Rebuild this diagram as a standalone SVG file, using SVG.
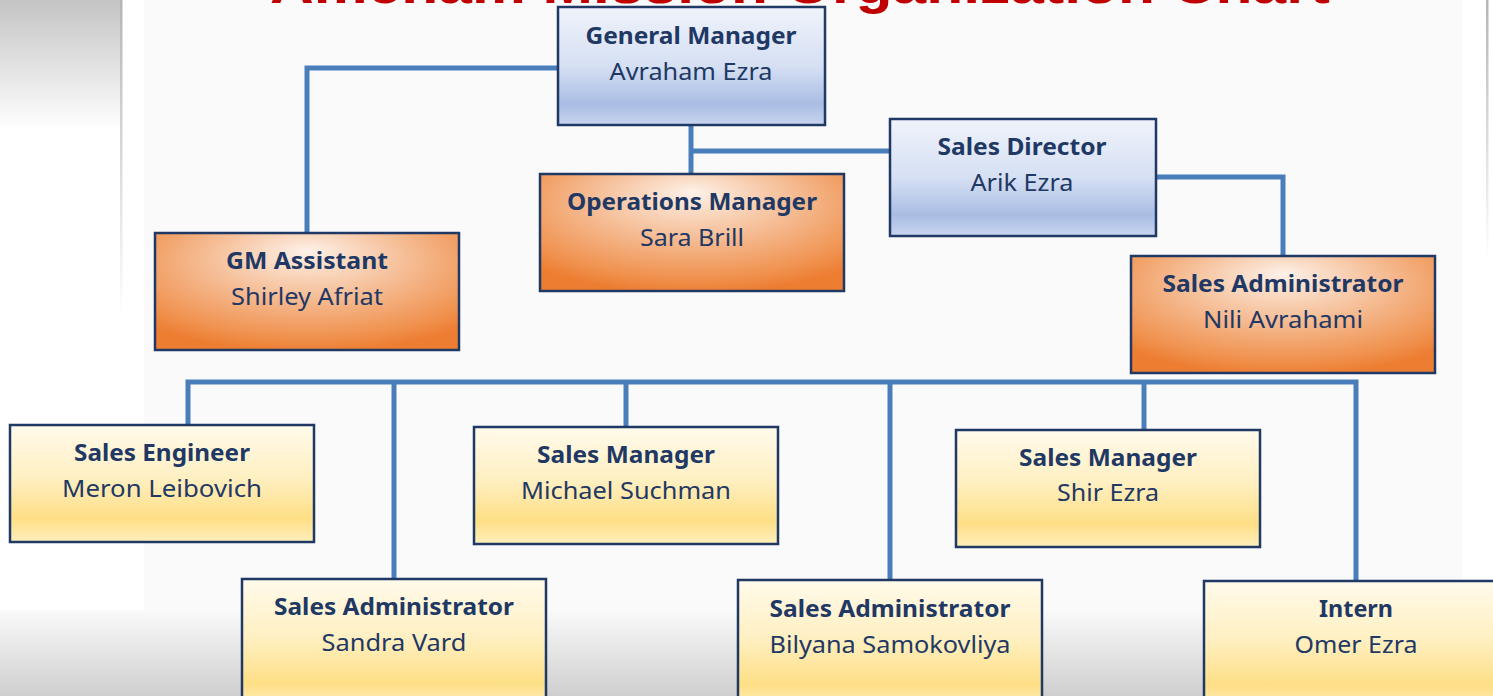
<svg xmlns="http://www.w3.org/2000/svg" width="1493" height="696" viewBox="0 0 1493 696">
  <defs>
    <linearGradient id="gLeft" x1="0" y1="0" x2="0" y2="1">
      <stop offset="0" stop-color="#c4c4c4"/>
      <stop offset="1" stop-color="#ffffff"/>
    </linearGradient>
    <linearGradient id="gBottom" x1="0" y1="0" x2="0" y2="1">
      <stop offset="0" stop-color="#fafafa"/>
      <stop offset="1" stop-color="#cfcfcf"/>
    </linearGradient>
    <linearGradient id="gLine" x1="0" y1="0" x2="0" y2="1">
      <stop offset="0" stop-color="#b5b5b5"/>
      <stop offset="1" stop-color="#b5b5b5" stop-opacity="0"/>
    </linearGradient>
    <linearGradient id="gBlue" x1="0" y1="0" x2="0" y2="1">
      <stop offset="0" stop-color="#eff3fb"/>
      <stop offset="0.5" stop-color="#d6e0f3"/>
      <stop offset="0.82" stop-color="#a9bde3"/>
      <stop offset="1" stop-color="#c8d5ef"/>
    </linearGradient>
    <radialGradient id="gOrange" cx="0.5" cy="0.3" r="0.72" fx="0.5" fy="0.15">
      <stop offset="0" stop-color="#fdf1e8"/>
      <stop offset="0.55" stop-color="#f4b385"/>
      <stop offset="0.85" stop-color="#f0924f"/>
      <stop offset="1" stop-color="#ed7d31"/>
    </radialGradient>
    <linearGradient id="gYellow" x1="0" y1="0" x2="0" y2="1">
      <stop offset="0" stop-color="#fffaeb"/>
      <stop offset="0.45" stop-color="#fff0c2"/>
      <stop offset="0.8" stop-color="#fedf86"/>
      <stop offset="1" stop-color="#ffefbd"/>
    </linearGradient>
    <style>
      .box { stroke: #1f3864; stroke-width: 2.5; }
      .blue { fill: url(#gBlue); }
      .orange { fill: url(#gOrange); }
      .yellow { fill: url(#gYellow); }
      .t { font-family: "Noto Sans", "Open Sans", sans-serif; font-size: 23px; fill: #1f3864; text-anchor: middle; }
      .b { font-weight: bold; }
      .conn { fill: none; stroke: #4a7ebb; stroke-width: 5; stroke-linejoin: miter; }
    </style>
  </defs>

  <!-- background -->
  <rect x="0" y="0" width="1493" height="696" fill="#ffffff"/>
  <rect x="0" y="0" width="120" height="130" fill="url(#gLeft)"/>
  <rect x="120" y="0" width="2.5" height="320" fill="url(#gLine)"/>
  <rect x="144" y="0" width="1318" height="696" fill="#fafafa"/>
  <rect x="1486" y="0" width="2.5" height="260" fill="url(#gLine)"/>
  <rect x="0" y="610" width="1493" height="86" fill="url(#gBottom)"/>

  <!-- title (cropped at top edge) -->
  <text x="800" y="3" font-family="Liberation Sans, Arial, sans-serif" font-weight="bold" font-size="54" fill="#c00000" text-anchor="middle" textLength="1060" lengthAdjust="spacingAndGlyphs">Amcham Mission Organization Chart</text>

  <!-- connectors -->
  <g id="connectors">
    <polyline class="conn" points="558,68 307,68 307,233"/>
    <line class="conn" x1="691" y1="125" x2="691" y2="174"/>
    <line class="conn" x1="691" y1="151" x2="890" y2="151"/>
    <polyline class="conn" points="1156,177 1283,177 1283,256"/>
    <polyline class="conn" points="188,425 188,382 1356,382 1356,581"/>
    <line class="conn" x1="394" y1="382" x2="394" y2="579"/>
    <line class="conn" x1="626" y1="382" x2="626" y2="427"/>
    <line class="conn" x1="890" y1="382" x2="890" y2="580"/>
    <line class="conn" x1="1144" y1="382" x2="1144" y2="430"/>
  </g>

  <!-- nodes -->
  <g id="general-manager">
    <rect class="box blue" x="558" y="7" width="267" height="118"/>
    <text class="t b" x="691" y="44" textLength="211" lengthAdjust="spacingAndGlyphs">General Manager</text>
    <text class="t" x="691" y="80" textLength="163" lengthAdjust="spacingAndGlyphs">Avraham Ezra</text>
  </g>
  <g id="sales-director">
    <rect class="box blue" x="890" y="119" width="266" height="117"/>
    <text class="t b" x="1022" y="155" textLength="169" lengthAdjust="spacingAndGlyphs">Sales Director</text>
    <text class="t" x="1022" y="191" textLength="103" lengthAdjust="spacingAndGlyphs">Arik Ezra</text>
  </g>
  <g id="operations-manager">
    <rect class="box orange" x="540" y="174" width="304" height="117"/>
    <text class="t b" x="692" y="210" textLength="250" lengthAdjust="spacingAndGlyphs">Operations Manager</text>
    <text class="t" x="692" y="246" textLength="104" lengthAdjust="spacingAndGlyphs">Sara Brill</text>
  </g>
  <g id="gm-assistant">
    <rect class="box orange" x="155" y="233" width="304" height="117"/>
    <text class="t b" x="307" y="269" textLength="162" lengthAdjust="spacingAndGlyphs">GM Assistant</text>
    <text class="t" x="307" y="305" textLength="152" lengthAdjust="spacingAndGlyphs">Shirley Afriat</text>
  </g>
  <g id="sales-admin-nili">
    <rect class="box orange" x="1131" y="256" width="304" height="117"/>
    <text class="t b" x="1283" y="292" textLength="241" lengthAdjust="spacingAndGlyphs">Sales Administrator</text>
    <text class="t" x="1283" y="328" textLength="160" lengthAdjust="spacingAndGlyphs">Nili Avrahami</text>
  </g>
  <g id="sales-engineer">
    <rect class="box yellow" x="10" y="425" width="304" height="117"/>
    <text class="t b" x="162" y="461" textLength="176" lengthAdjust="spacingAndGlyphs">Sales Engineer</text>
    <text class="t" x="162" y="497" textLength="200" lengthAdjust="spacingAndGlyphs">Meron Leibovich</text>
  </g>
  <g id="sales-manager-michael">
    <rect class="box yellow" x="474" y="427" width="304" height="117"/>
    <text class="t b" x="626" y="463" textLength="178" lengthAdjust="spacingAndGlyphs">Sales Manager</text>
    <text class="t" x="626" y="499" textLength="210" lengthAdjust="spacingAndGlyphs">Michael Suchman</text>
  </g>
  <g id="sales-manager-shir">
    <rect class="box yellow" x="956" y="430" width="304" height="117"/>
    <text class="t b" x="1108" y="466" textLength="178" lengthAdjust="spacingAndGlyphs">Sales Manager</text>
    <text class="t" x="1108" y="501" textLength="102" lengthAdjust="spacingAndGlyphs">Shir Ezra</text>
  </g>
  <g id="sales-admin-sandra">
    <rect class="box yellow" x="242" y="579" width="304" height="130"/>
    <text class="t b" x="394" y="615" textLength="240" lengthAdjust="spacingAndGlyphs">Sales Administrator</text>
    <text class="t" x="394" y="651" textLength="145" lengthAdjust="spacingAndGlyphs">Sandra Vard</text>
  </g>
  <g id="sales-admin-bilyana">
    <rect class="box yellow" x="738" y="580" width="304" height="130"/>
    <text class="t b" x="890" y="617" textLength="241" lengthAdjust="spacingAndGlyphs">Sales Administrator</text>
    <text class="t" x="890" y="653" textLength="241" lengthAdjust="spacingAndGlyphs">Bilyana Samokovliya</text>
  </g>
  <g id="intern">
    <rect class="box yellow" x="1204" y="581" width="304" height="130"/>
    <text class="t b" x="1356" y="617" textLength="74" lengthAdjust="spacingAndGlyphs">Intern</text>
    <text class="t" x="1356" y="653" textLength="123" lengthAdjust="spacingAndGlyphs">Omer Ezra</text>
  </g>
</svg>
